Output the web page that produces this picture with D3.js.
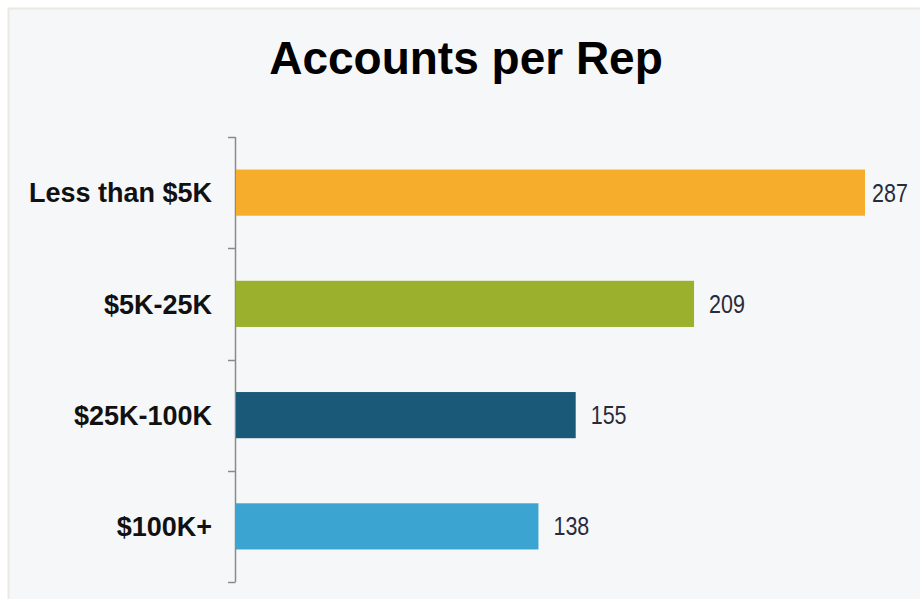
<!DOCTYPE html>
<html>
<head>
<meta charset="utf-8">
<script src="https://cdn.jsdelivr.net/npm/d3@7"></script>
<style>
  html, body { margin: 0; padding: 0; background: #ffffff; }
  svg { display: block; }
</style>
</head>
<body>
<svg id="chart"></svg>
<script>
const width = 920
const height = 599

// chart data
const categories = ['Less than $5K', '$5K-25K', '$25K-100K', '$100K+']
const values = [287, 209, 155, 138]
const barColors = ['#f6ad2c', '#9bb12d', '#1b5979', '#3ca4d0']
const title = 'Accounts per Rep'

const margin = { top: 137, right: 55, bottom: 17, left: 235 }
const fontFamily = 'Liberation Sans, Arial, sans-serif'

const svg = d3.select('svg#chart')
  .attr('width', width)
  .attr('height', height)

// panel background
svg.append('rect')
  .attr('x', 8.5)
  .attr('y', 8.5)
  .attr('width', width)
  .attr('height', height)
  .attr('fill', '#f6f7f8')
  .attr('stroke', '#ebeae1')
  .attr('stroke-width', 2)

svg.append('text')
  .attr('x', 466)
  .attr('y', 74)
  .attr('text-anchor', 'middle')
  .attr('font-family', fontFamily)
  .attr('font-weight', 'bold')
  .attr('font-size', 46)
  .attr('fill', '#000')
  .text(title)

const x = d3.scaleLinear()
  .domain([0, 287])
  .range([margin.left + 1, 865])

const y = d3.scaleBand()
  .domain(categories)
  .range([margin.top, height - margin.bottom])
  .paddingInner(0.585)
  .paddingOuter(0.2925)

const data = categories.map((c, i) => ({ cat: c, value: values[i], color: barColors[i] }))

// axis line with ticks at band boundaries
const axis = svg.append('g')
const step = y.step()
const bounds = d3.range(categories.length + 1).map(i => margin.top + i * step)

axis.append('line')
  .attr('x1', margin.left + 0.5)
  .attr('x2', margin.left + 0.5)
  .attr('y1', bounds[0])
  .attr('y2', bounds[bounds.length - 1])
  .attr('stroke', '#8a8a8a')
  .attr('stroke-width', 1.5)

axis.selectAll('.tick')
  .data(bounds)
  .join('line')
  .attr('class', 'tick')
  .attr('x1', margin.left - 7)
  .attr('x2', margin.left + 0.5)
  .attr('y1', d => Math.round(d) + 0.5)
  .attr('y2', d => Math.round(d) + 0.5)
  .attr('stroke', '#8a8a8a')
  .attr('stroke-width', 1.5)

svg.append('g')
  .selectAll('rect')
  .data(data)
  .join('rect')
  .attr('x', x(0))
  .attr('y', d => y(d.cat))
  .attr('width', d => x(d.value) - x(0))
  .attr('height', y.bandwidth())
  .attr('fill', d => d.color)

// category labels
svg.append('g')
  .selectAll('text')
  .data(data)
  .join('text')
  .attr('x', 212)
  .attr('y', d => y(d.cat) + y.bandwidth() / 2)
  .attr('dy', '0.36em')
  .attr('text-anchor', 'end')
  .attr('font-family', fontFamily)
  .attr('font-weight', 'bold')
  .attr('font-size', 27)
  .attr('fill', '#111')
  .text(d => d.cat)

// value labels, slightly condensed; pulled in if they would run off the panel
const valueLabels = svg.append('g')
  .selectAll('text')
  .data(data)
  .join('text')
  .attr('font-family', fontFamily)
  .attr('font-size', 25)
  .attr('fill', '#2a2a3a')
  .attr('dy', '0.36em')
  .text(d => d.value)

valueLabels.each(function (d) {
  const w = this.getComputedTextLength() * 0.86
  const lx = Math.min(x(d.value) + 15, width - 12 - w)
  const ly = y(d.cat) + y.bandwidth() / 2
  d3.select(this).attr('transform', `translate(${lx},${ly}) scale(0.86,1)`)
})
</script>
</body>
</html>
